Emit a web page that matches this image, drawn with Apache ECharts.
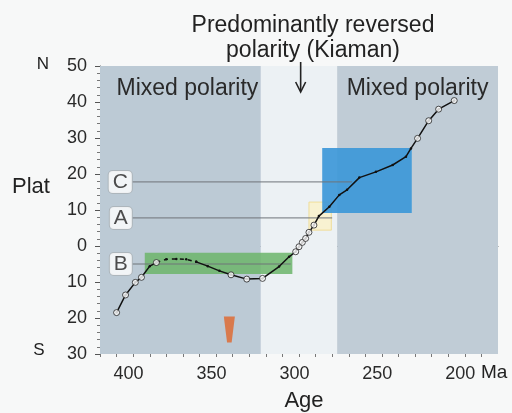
<!DOCTYPE html>
<html>
<head>
<meta charset="utf-8">
<script src="https://cdn.jsdelivr.net/npm/echarts@6/dist/echarts.min.js"></script>
<style>
  html, body { margin: 0; padding: 0; background: #f7f8f8; }
  #chart { width: 512px; height: 413px; }
</style>
</head>
<body>
<div id="chart"></div>
<script>
// curve: age (Ma) and palaeolatitude (deg, negative = south)
const curveAge = [400, 394.6, 388.7, 385, 380, 376, 370, 364, 358, 352, 345, 338, 331, 321.5, 312, 302, 296,
  292, 290, 288, 286, 284, 281, 278, 271.7, 265.7, 261, 253.6, 243.6, 233.5, 225.5, 222.5, 218.5, 211.8, 205.8, 196.4];
const curveLat = [-18.5, -13.6, -10.1, -8.7, -5.6, -4.6, -3.7, -3.6, -3.7, -4.4, -5.6, -6.9, -8.0, -9.2, -9.0, -5.7, -3.0,
  -1.6, -0.2, 1.0, 2.1, 3.8, 5.8, 8.3, 10.9, 14.2, 15.6, 19.0, 20.6, 22.5, 24.8, 27.1, 29.9, 34.8, 38.0, 40.4];
// points drawn as open circles
const circleAge = [400, 394.6, 388.7, 385, 376, 331, 321.5, 312, 292, 290, 288, 286, 284, 281, 218.5, 211.8, 205.8, 196.4];
const circleLat = [-18.5, -13.6, -10.1, -8.7, -4.6, -8.0, -9.2, -9.0, -1.6, -0.2, 1.0, 2.1, 3.8, 5.8, 29.9, 34.8, 38.0, 40.4];

// polarity bands [from, to]
const bandNames = ['Mixed polarity', '', 'Mixed polarity'];
const bandFrom = [410, 313, 267];
const bandTo = [313, 267, 170];

// boxes: [ageFrom, ageTo, latTop, latBottom]
const greenBox = [383, 294, -1.9, -7.8];
const yellowBox = [284, 270.5, 12.2, 4.4];
const blueBox = [276, 222, 27.2, 9.2];

// reference lines C, A, B
const refNames = ['C', 'A', 'B'];
const refLat = [17.8, 7.8, -5.0];
const refStart = 390.5;
const refEnd = [258, 270, 295];

// orange marker and arrow
const markerAge = 332, markerLat = -23.2;
const arrowAge = 289;

const xTicks = [200, 250, 300, 350, 400];
const xMinor = [];
for (let a = 180; a <= 410; a += 10) xMinor.push(a);

const chart = echarts.init(document.getElementById('chart'));
const font = 'Liberation Sans, Arial, sans-serif';

const pts = curveAge.map((a, i) => [a, curveLat[i]]);
const bandColors = ['#bccad5', '#ecf1f4', '#c0ccd6'];
const bandLabelShift = [7, 0, 0];

const areas = bandNames.map((n, i) => [
  { xAxis: bandFrom[i], yAxis: 50, name: n,
    itemStyle: { color: bandColors[i] },
    label: { show: n !== '', position: 'insideTop', distance: 11, offset: [bandLabelShift[i], 0],
      fontSize: 23, color: '#2a2a2a', fontFamily: font } },
  { xAxis: bandTo[i], yAxis: -30 }
]);
function box(b, color, opacity, border) {
  return [
    { xAxis: b[0], yAxis: b[2], itemStyle: { color: color, opacity: opacity, borderColor: border || 'transparent', borderWidth: border ? 1 : 0 }, label: { show: false } },
    { xAxis: b[1], yAxis: b[3] }
  ];
}
areas.push(box(greenBox, '#6cb56a', 0.85));
areas.push(box(yellowBox, '#fbf3c8', 0.8, '#efd98a'));
areas.push(box(blueBox, '#3d98d8', 0.92));

const series = [
  {
    type: 'line', data: pts.slice(0, 6), symbol: 'circle', symbolSize: 2.5,
    itemStyle: { color: '#111' }, lineStyle: { color: '#111', width: 1.5 }, z: 5,
    markArea: { silent: true, data: areas, z: 1 }
  },
  {
    type: 'line', data: pts.slice(5, 10), symbol: 'circle', symbolSize: 2.5,
    itemStyle: { color: '#111' }, lineStyle: { color: '#111', width: 1.5, type: [4, 4] }, z: 5
  },
  {
    type: 'line', data: pts.slice(9), symbol: 'circle', symbolSize: 2.5,
    itemStyle: { color: '#111' }, lineStyle: { color: '#111', width: 1.5 }, z: 5
  },
  {
    type: 'scatter', data: circleAge.map((a, i) => [a, circleLat[i]]), symbol: 'circle', symbolSize: 6,
    itemStyle: { color: '#fff', borderColor: '#222', borderWidth: 1 }, z: 6
  },
  {
    type: 'scatter', data: [[markerAge, markerLat]], symbol: 'path://M0,0 L12,0 L8.5,26 L3.5,26 Z',
    symbolSize: [11, 26], itemStyle: { color: '#e0652a' }, z: 6
  }
];
refNames.forEach((n, i) => {
  series.push({
    type: 'line', data: [[refStart, refLat[i]], [refEnd[i], refLat[i]]], symbol: 'none',
    lineStyle: { color: '#6f7478', width: 1 }, z: 4
  });
});
series.push({
  type: 'scatter', data: refNames.map((n, i) => [refStart, refLat[i], n]), symbolSize: 1,
  itemStyle: { color: 'transparent' }, z: 7,
  label: {
    show: true, position: 'left', distance: 0, formatter: p => p.value[2],
    fontSize: 21, color: '#222', fontFamily: font, backgroundColor: '#fff',
    borderColor: '#a9b0b5', borderWidth: 1, borderRadius: 4, padding: [1, 4, 0, 4]
  }
});

chart.setOption({
  backgroundColor: '#f7f8f8',
  animation: false,
  textStyle: { fontFamily: font },
  grid: { left: 100, right: 14, top: 66, bottom: 59 },
  xAxis: [
    {
      type: 'value', inverse: true, min: 170, max: 410,
      splitLine: { show: false },
      axisLine: { lineStyle: { color: '#555' } },
      axisTick: { customValues: xTicks, length: 5, lineStyle: { color: '#555' } },
      axisLabel: { customValues: xTicks, fontSize: 18, color: '#2a2a2a', margin: 11, padding: [0, 0, 0, 24] }
    },
    {
      type: 'value', inverse: true, min: 170, max: 410, position: 'bottom',
      splitLine: { show: false },
      axisLine: { show: false },
      axisTick: { customValues: xMinor, length: 3, lineStyle: { color: '#777' } },
      axisLabel: { show: false }
    }
  ],
  yAxis: {
    type: 'value', min: -30, max: 50, interval: 10,
    splitLine: { show: false },
    axisLine: { show: true, lineStyle: { color: '#555' } },
    axisTick: { show: true, length: 5, lineStyle: { color: '#555' } },
    minorTick: { show: true, splitNumber: 5, length: 3, lineStyle: { color: '#777' } },
    axisLabel: { fontSize: 18, color: '#2a2a2a', margin: 13, formatter: v => Math.abs(v) }
  },
  title: {
    text: 'Predominantly reversed\npolarity (Kiaman)', left: 308, top: 8, textAlign: 'center',
    textStyle: { fontSize: 23, fontWeight: 'normal', color: '#222', lineHeight: 25, fontFamily: font }
  },
  series: series
});

const ax = chart.convertToPixel({ gridIndex: 0 }, [arrowAge, 50])[0];
const txt = (t, x, y, size, align) => ({
  type: 'text', x: x, y: y, z: 100,
  style: { text: t, fontSize: size, fill: '#222', fontFamily: font, align: align || 'center', verticalAlign: 'middle' }
});
chart.setOption({
  graphic: [
    txt('N', 43, 64, 17),
    txt('S', 39, 350, 17),
    txt('Plat', 31, 187, 22),
    txt('Age', 304, 401, 22),
    txt('Ma', 481, 373, 19, 'left'),
    { type: 'line', z: 100, shape: { x1: ax, y1: 62, x2: ax, y2: 91 }, style: { stroke: '#222', lineWidth: 1.6 } },
    { type: 'polyline', z: 100, shape: { points: [[ax - 5, 82], [ax, 92], [ax + 5, 82]] }, style: { stroke: '#222', lineWidth: 1.6, fill: null } }
  ]
});
</script>
</body>
</html>
